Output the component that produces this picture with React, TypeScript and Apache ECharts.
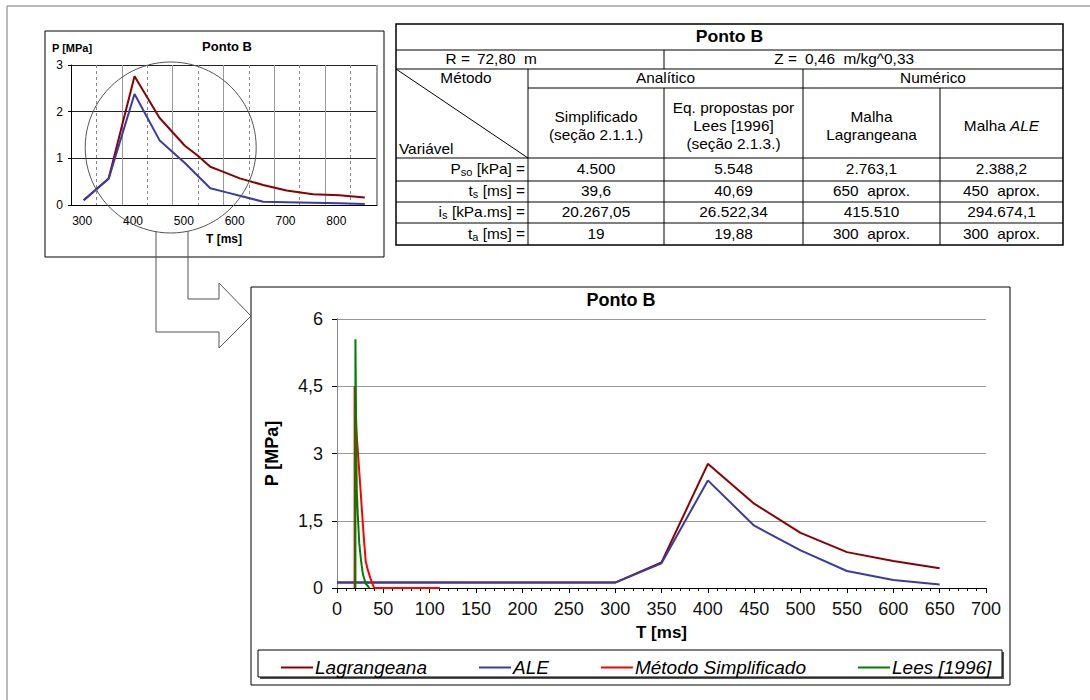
import React, { useEffect, useRef } from "react";
import * as echarts from "echarts";

// ---------- data ----------
// small inset chart (Ponto B, 300-850 ms)
const smallLagT = [303, 352, 403, 452, 502, 527, 552, 578, 610, 656, 702, 754, 806, 856];
const smallLagP = [0.1, 0.57, 2.76, 1.87, 1.27, 1.06, 0.82, 0.71, 0.57, 0.43, 0.31, 0.23, 0.21, 0.16];
const smallAleT = [303, 352, 403, 452, 502, 552, 584, 610, 656, 702, 754, 806, 856];
const smallAleP = [0.1, 0.56, 2.38, 1.39, 0.9, 0.36, 0.27, 0.2, 0.07, 0.06, 0.05, 0.04, 0.02];
const smallXTicks = [300, 400, 500, 600, 700, 800];

// main chart
const lagT = [0, 300, 350, 400, 450, 500, 550, 600, 650];
const lagP = [0.12, 0.12, 0.57, 2.77, 1.88, 1.23, 0.8, 0.6, 0.44];
const aleT = [0, 300, 350, 400, 450, 500, 550, 600, 650];
const aleP = [0.12, 0.12, 0.55, 2.4, 1.39, 0.84, 0.38, 0.18, 0.08];
const simpT = [19, 19, 21, 23, 25, 27, 29, 31, 33, 36, 40, 111];
const simpP = [0, 4.5, 3.5, 2.9, 2.3, 1.7, 1.1, 0.6, 0.42, 0.22, 0, 0];
const leesT = [19.88, 19.88, 20.5, 21.3, 22.5, 24, 26, 28, 31, 35];
const leesP = [0, 5.55, 4.0, 2.2, 1.6, 1.0, 0.6, 0.3, 0.1, 0];

const seriesNames = ["Lagrangeana", "ALE", "Método Simplificado", "Lees [1996]"];
const seriesColors = ["#8b0000", "#3a3aa8", "#ff0000", "#008000"];

// table
const tableTitle = "Ponto B";
const rowR = ["R =", "72,80  m"];
const rowZ = ["Z =", "0,46  m/kg^0,33"];
const methodCorner = ["Método", "Variável"];
const methodGroups = ["Analítico", "Numérico"];
const methodHeaders = [
  ["Simplificado", "(seção 2.1.1.)"],
  ["Eq. propostas por", "Lees [1996]", "(seção 2.1.3.)"],
  ["Malha", "Lagrangeana"],
  ["{n|Malha }{i|ALE}"],
];
const varLabels = [
  ["P", "so", " [kPa] ="],
  ["t", "s", " [ms] ="],
  ["i", "s", " [kPa.ms] ="],
  ["t", "a", " [ms] ="],
];
const tableValues = [
  ["4.500", "5.548", "2.763,1", "2.388,2"],
  ["39,6", "40,69", "650  aprox.", "450  aprox."],
  ["20.267,05", "26.522,34", "415.510", "294.674,1"],
  ["19", "19,88", "300  aprox.", "300  aprox."],
];

const FONT = "'Liberation Sans', Arial, sans-serif";
const TFS = 14; // table font size
const TSX = 1.1; // table horizontal stretch

const zip = (t: number[], p: number[]) => t.map((v, i) => [v, p[i]]);

function buildTable(): any[] {
  const els: any[] = [];
  const cx = [396, 528, 664, 803, 940, 1063];
  const ry = [24, 50, 69, 88, 158, 181, 202, 223, 245];
  const line = (x1: number, y1: number, x2: number, y2: number, w = 1) => ({
    type: "line",
    shape: { x1, y1, x2, y2 },
    style: { stroke: "#000", lineWidth: w },
    silent: true,
  });
  const txt = (x: number, y: number, text: string, align = "center", extra: any = {}) => ({
    type: "text",
    x,
    y,
    scaleX: TSX,
    style: {
      text,
      align,
      verticalAlign: "middle",
      fontFamily: FONT,
      fontSize: TFS,
      fill: "#000",
      ...extra,
    },
    silent: true,
  });
  els.push({
    type: "rect",
    shape: { x: cx[0], y: ry[0], width: cx[5] - cx[0], height: ry[8] - ry[0] },
    style: { fill: "#fff", stroke: "#000", lineWidth: 1.5 },
    silent: true,
  });
  els.push(line(cx[0], ry[1], cx[5], ry[1]));
  els.push(line(cx[0], ry[2], cx[5], ry[2]));
  els.push(line(cx[1], ry[3], cx[5], ry[3]));
  for (let r = 4; r <= 7; r++) els.push(line(cx[0], ry[r], cx[5], ry[r]));
  els.push(line(cx[2], ry[1], cx[2], ry[2]));
  els.push(line(cx[1], ry[2], cx[1], ry[8]));
  els.push(line(cx[3], ry[2], cx[3], ry[8]));
  els.push(line(cx[2], ry[3], cx[2], ry[8]));
  els.push(line(cx[4], ry[3], cx[4], ry[8]));
  els.push(line(cx[0], ry[2], cx[1], ry[4]));

  els.push(txt((cx[0] + cx[5]) / 2, (ry[0] + ry[1]) / 2, tableTitle, "center", { fontSize: 16, fontWeight: "bold" }));
  const r2y = (ry[1] + ry[2]) / 2;
  els.push(txt(470, r2y, rowR[0], "right"));
  els.push(txt(477, r2y, rowR[1], "left"));
  els.push(txt(797, r2y, rowZ[0], "right"));
  els.push(txt(805, r2y, rowZ[1], "left"));
  const r3y = (ry[2] + ry[3]) / 2;
  els.push(txt(466, r3y, methodCorner[0], "center"));
  els.push(txt(399, 149, methodCorner[1], "left"));
  els.push(txt((cx[1] + cx[3]) / 2, r3y, methodGroups[0]));
  els.push(txt((cx[3] + cx[5]) / 2, r3y, methodGroups[1]));
  const hMid = (ry[3] + ry[4]) / 2;
  methodHeaders.forEach((lines, i) => {
    const x = (cx[i + 1] + cx[i + 2]) / 2;
    const lh = 18;
    const y0 = hMid + 3 - ((lines.length - 1) * lh) / 2;
    lines.forEach((l, j) => {
      els.push(
        txt(x, y0 + j * lh, l, "center", {
          rich: {
            n: { fontFamily: FONT, fontSize: TFS, fill: "#000" },
            i: { fontFamily: FONT, fontSize: TFS, fill: "#000", fontStyle: "italic" },
          },
        })
      );
    });
  });
  varLabels.forEach((v, r) => {
    const y = (ry[4 + r] + ry[5 + r]) / 2;
    els.push(
      txt(cx[1] - 3, y, `{a|${v[0]}}{s|${v[1]}}{a|${v[2]}}`, "right", {
        rich: {
          a: { fontFamily: FONT, fontSize: TFS, fill: "#000", lineHeight: 16, verticalAlign: "middle" },
          s: { fontFamily: FONT, fontSize: 10, fill: "#000", lineHeight: 16, verticalAlign: "bottom", padding: [6, 0, 0, 0] },
        },
      })
    );
    tableValues[r].forEach((val, c) => {
      els.push(txt((cx[c + 1] + cx[c + 2]) / 2, y, val));
    });
  });
  return els;
}

export default function App() {
  const ref = useRef<HTMLDivElement>(null);
  useEffect(() => {
    const chart = echarts.init(ref.current!, null, { renderer: "svg" });
    const circle = { cx: 170.7, cy: 147.5, r: 85.5 };
    const option: any = {
      animation: false,
      backgroundColor: "#fff",
      textStyle: { fontFamily: FONT },
      grid: [
        { left: 71, top: 65, width: 306, height: 140 },
        { left: 337, top: 319, width: 649, height: 269 },
      ],
      xAxis: [
        {
          gridIndex: 0,
          type: "value",
          min: 278,
          max: 880,
          axisLine: { lineStyle: { color: "#000" } },
          axisTick: { show: false },
          splitLine: { show: false },
          axisLabel: {
            fontSize: 12,
            color: "#000",
            margin: 10,
            showMinLabel: false,
            showMaxLabel: false,
            formatter: (v: number) => (smallXTicks.includes(v) ? String(v) : ""),
          },
          name: "T [ms]",
          nameLocation: "middle",
          nameGap: 28,
          nameTextStyle: { fontSize: 12, fontWeight: "bold", color: "#000" },
        },
        {
          gridIndex: 0,
          type: "value",
          min: 278,
          max: 880,
          interval: 50,
          axisLine: { show: false },
          axisTick: { show: false },
          axisLabel: { show: false },
          splitLine: { show: true, lineStyle: { color: "#888", type: [3, 3], width: 1 } },
        },
        {
          gridIndex: 0,
          type: "value",
          min: 278,
          max: 880,
          interval: 100,
          axisLine: { show: false },
          axisTick: { show: false },
          axisLabel: { show: false },
          splitLine: { show: true, lineStyle: { color: "#999", width: 1 } },
        },
        {
          gridIndex: 1,
          type: "value",
          min: 0,
          max: 700,
          interval: 50,
          axisLine: { onZero: false, lineStyle: { color: "#000" } },
          axisTick: { length: 5, lineStyle: { color: "#000" } },
          minorTick: { show: true, splitNumber: 5, length: 3, lineStyle: { color: "#000" } },
          splitLine: { show: false },
          axisLabel: { fontSize: 18, color: "#111", margin: 12 },
          name: "T [ms]",
          nameLocation: "middle",
          nameGap: 36,
          nameTextStyle: { fontSize: 17, fontWeight: "bold", color: "#000" },
        },
        {
          gridIndex: 1,
          type: "value",
          min: 0,
          max: 700,
          interval: 50,
          axisLine: { show: false },
          axisTick: { inside: true, length: 3, lineStyle: { color: "#000" } },
          minorTick: { show: true, splitNumber: 5, length: 3, lineStyle: { color: "#000" } },
          splitLine: { show: false },
          axisLabel: { show: false },
        },
      ],
      yAxis: [
        {
          gridIndex: 0,
          type: "value",
          min: 0,
          max: 3,
          interval: 1,
          axisLine: { show: true, lineStyle: { color: "#000" } },
          axisTick: { show: true, length: 3, lineStyle: { color: "#000" } },
          axisLabel: { fontSize: 12, color: "#000", margin: 8 },
          splitLine: { show: true, lineStyle: { color: "#222", width: 1 } },
        },
        {
          gridIndex: 1,
          type: "value",
          min: 0,
          max: 6,
          interval: 1.5,
          axisLine: { show: true, lineStyle: { color: "#000" } },
          axisTick: { show: true, length: 5, lineStyle: { color: "#000" } },
          axisLabel: {
            fontSize: 18,
            color: "#111",
            margin: 14,
            formatter: (v: number) => String(v).replace(".", ","),
          },
          splitLine: { show: true, lineStyle: { color: "#999", width: 1 } },
          name: "P [MPa]",
          nameLocation: "middle",
          nameGap: 56,
          nameRotate: 90,
          nameTextStyle: { fontSize: 18, fontWeight: "bold", color: "#000" },
        },
        {
          gridIndex: 1,
          type: "value",
          position: "right",
          min: 0,
          max: 6,
          interval: 1.5,
          axisLine: { show: true, lineStyle: { color: "#888" } },
          axisTick: { show: false },
          axisLabel: { show: false },
          splitLine: { show: false },
        },
      ],
      legend: {
        data: seriesNames,
        left: 276,
        top: 653,
        itemWidth: 32,
        itemHeight: 2,
        itemGap: 52,
        icon: "rect",
        textStyle: { fontSize: 19, fontStyle: "italic", color: "#000", fontFamily: FONT, padding: [0, 0, 0, -3] },
        selectedMode: false,
        z: 20,
      },
      series: [
        {
          name: seriesNames[0],
          type: "line",
          xAxisIndex: 0,
          yAxisIndex: 0,
          data: zip(smallLagT, smallLagP),
          showSymbol: false,
          lineStyle: { color: seriesColors[0], width: 2 },
          itemStyle: { color: seriesColors[0] },
          z: 5,
        },
        {
          name: seriesNames[1],
          type: "line",
          xAxisIndex: 0,
          yAxisIndex: 0,
          data: zip(smallAleT, smallAleP),
          showSymbol: false,
          lineStyle: { color: seriesColors[1], width: 2 },
          itemStyle: { color: seriesColors[1] },
          z: 6,
        },
        {
          name: seriesNames[0],
          type: "line",
          xAxisIndex: 3,
          yAxisIndex: 1,
          data: zip(lagT, lagP),
          showSymbol: false,
          lineStyle: { color: seriesColors[0], width: 2 },
          itemStyle: { color: seriesColors[0] },
          z: 5,
        },
        {
          name: seriesNames[1],
          type: "line",
          xAxisIndex: 3,
          yAxisIndex: 1,
          data: zip(aleT, aleP),
          showSymbol: false,
          lineStyle: { color: seriesColors[1], width: 2 },
          itemStyle: { color: seriesColors[1] },
          z: 6,
        },
        {
          name: seriesNames[2],
          type: "line",
          xAxisIndex: 3,
          yAxisIndex: 1,
          data: zip(simpT, simpP),
          showSymbol: false,
          lineStyle: { color: seriesColors[2], width: 2 },
          itemStyle: { color: seriesColors[2] },
          z: 7,
        },
        {
          name: seriesNames[3],
          type: "line",
          xAxisIndex: 3,
          yAxisIndex: 1,
          data: zip(leesT, leesP),
          showSymbol: false,
          lineStyle: { color: seriesColors[3], width: 2 },
          itemStyle: { color: seriesColors[3] },
          z: 8,
        },
      ],
      graphic: [
        // outer frame
        {
          type: "rect",
          shape: { x: 7, y: 6, width: 1200, height: 800 },
          style: { fill: "none", stroke: "#777", lineWidth: 1 },
          silent: true,
          z: -10,
        },
        // small chart box
        {
          type: "rect",
          shape: { x: 45, y: 31, width: 339, height: 226 },
          style: { fill: "none", stroke: "#000", lineWidth: 1 },
          silent: true,
        },
        {
          type: "text",
          x: 227,
          y: 46,
          style: { text: "Ponto B", align: "center", verticalAlign: "middle", fontFamily: FONT, fontSize: 13, fontWeight: "bold", fill: "#000" },
          silent: true,
        },
        {
          type: "text",
          x: 52,
          y: 48,
          style: { text: "P [MPa]", align: "left", verticalAlign: "middle", fontFamily: FONT, fontSize: 11, fontWeight: "bold", fill: "#000" },
          silent: true,
        },
        // circle + arrow
        {
          type: "circle",
          shape: circle,
          style: { fill: "none", stroke: "#555", lineWidth: 1 },
          silent: true,
          z: 100,
        },
        {
          type: "polyline",
          shape: {
            points: [
              [188, 231],
              [188, 299],
              [219, 299],
              [219, 283],
              [251, 316],
              [219, 348],
              [219, 332],
              [156, 332],
              [156, 231.5],
            ],
          },
          style: { fill: "none", stroke: "#555", lineWidth: 1 },
          silent: true,
          z: 100,
        },
        // big chart box
        {
          type: "rect",
          shape: { x: 251, y: 287, width: 759, height: 398 },
          style: { fill: "none", stroke: "#000", lineWidth: 1 },
          silent: true,
        },
        {
          type: "text",
          x: 621,
          y: 300,
          style: { text: "Ponto B", align: "center", verticalAlign: "middle", fontFamily: FONT, fontSize: 18, fontWeight: "bold", fill: "#000" },
          silent: true,
        },
        // legend box with shadow
        {
          type: "rect",
          shape: { x: 260, y: 652, width: 744, height: 27 },
          style: { fill: "#555", stroke: "none" },
          silent: true,
          z: 1,
        },
        {
          type: "rect",
          shape: { x: 258, y: 650, width: 744, height: 27 },
          style: { fill: "#fff", stroke: "#000", lineWidth: 1 },
          silent: true,
          z: 2,
        },
        ...buildTable(),
      ],
    };
    chart.setOption(option);
    return () => chart.dispose();
  }, []);
  return (
    <div
      ref={ref}
      style={{ position: "absolute", left: 0, top: 0, width: 1090, height: 700, background: "#fff" }}
    />
  );
}
